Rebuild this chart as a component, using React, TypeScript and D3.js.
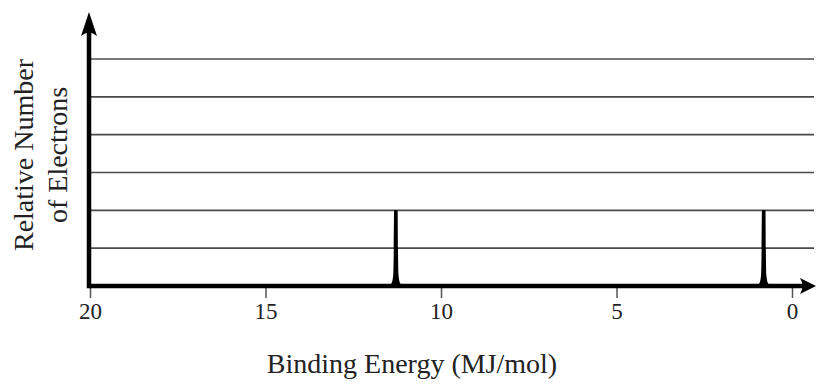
import React, { useEffect, useRef } from 'react';
import * as d3 from 'd3';

// peaks (binding energy in MJ/mol, relative height)
const peakEnergies = [11.3, 0.82];
const peakHeights = [2, 2];
const xTicks = [20, 15, 10, 5, 0];
const gridLevels = [1, 2, 3, 4, 5, 6];

const App = () => {
  const chartRef = useRef<SVGSVGElement>(null);

  useEffect(() => {
    const svg = d3.select(chartRef.current);
    svg.selectAll('*').remove();

    const x = d3.scaleLinear().domain([20, 0]).range([90.5, 792.5]);
    const y = d3.scaleLinear().domain([0, 6]).range([286, 59]);
    const x0 = 89;
    const font = '"Liberation Serif", "Times New Roman", serif';

    // grid lines
    svg
      .selectAll('line.grid')
      .data(gridLevels)
      .enter()
      .append('line')
      .attr('x1', x0)
      .attr('x2', 814)
      .attr('y1', (d) => y(d))
      .attr('y2', (d) => y(d))
      .attr('stroke', '#4a4a4a')
      .attr('stroke-width', 1.6);

    // ticks
    svg
      .selectAll('line.tick')
      .data(xTicks)
      .enter()
      .append('line')
      .attr('x1', (d) => x(d))
      .attr('x2', (d) => x(d))
      .attr('y1', y(0))
      .attr('y2', y(0) + 12)
      .attr('stroke', '#555')
      .attr('stroke-width', 1.5);

    svg
      .selectAll('text.tick')
      .data(xTicks)
      .enter()
      .append('text')
      .attr('x', (d) => x(d))
      .attr('y', 319)
      .attr('text-anchor', 'middle')
      .attr('font-family', font)
      .attr('font-size', 23)
      .attr('fill', '#222')
      .text((d) => d);

    // peaks: thin spike with a small flared foot
    const profile: [number, number][] = [
      [-0.2, 0], [-0.12, 0.04], [-0.075, 0.15], [-0.06, 0.5], [-0.05, 1],
      [0.05, 1], [0.06, 0.5], [0.075, 0.15], [0.12, 0.04], [0.2, 0],
    ];
    const area = d3
      .area<[number, number]>()
      .x((d) => d[0])
      .y0(y(0))
      .y1((d) => d[1])
      .curve(d3.curveMonotoneX);

    peakEnergies.forEach((e, i) => {
      const pts: [number, number][] = profile.map(([dx, f]) => [
        x(e) + dx * 35.1,
        y(0) - f * (y(0) - y(peakHeights[i])),
      ]);
      svg.append('path').attr('d', area(pts)).attr('fill', '#000');
    });

    // axes with arrows
    svg
      .append('line')
      .attr('x1', x0)
      .attr('x2', 806)
      .attr('y1', y(0))
      .attr('y2', y(0))
      .attr('stroke', '#000')
      .attr('stroke-width', 4.5);
    svg
      .append('line')
      .attr('x1', x0)
      .attr('x2', x0)
      .attr('y1', y(0) + 2.25)
      .attr('y2', 30)
      .attr('stroke', '#000')
      .attr('stroke-width', 4.5);

    svg
      .append('path')
      .attr('d', `M${x0},12 L${x0 + 8},36 Q${x0},29 ${x0 - 8},36 Z`)
      .attr('fill', '#000');
    svg
      .append('path')
      .attr('d', `M816,${y(0)} L800,${y(0) - 8} Q805,${y(0)} 800,${y(0) + 8} Z`)
      .attr('fill', '#000');

    // axis titles
    svg
      .append('text')
      .attr('x', 412)
      .attr('y', 373)
      .attr('text-anchor', 'middle')
      .attr('font-family', font)
      .attr('font-size', 28)
      .attr('fill', '#222')
      .text('Binding Energy (MJ/mol)');

    const yt = svg
      .append('text')
      .attr('transform', 'translate(33,155) rotate(-90)')
      .attr('text-anchor', 'middle')
      .attr('font-family', font)
      .attr('font-size', 28)
      .attr('fill', '#222');
    yt.append('tspan').attr('x', 0).attr('y', 0).text('Relative Number');
    yt.append('tspan').attr('x', 0).attr('y', 34).text('of Electrons');
  }, []);

  return (
    <div style={{ position: 'fixed', left: 0, top: 0, background: 'white' }}>
      <svg ref={chartRef} width={817} height={386} style={{ display: 'block' }}></svg>
    </div>
  );
};

export default App;
